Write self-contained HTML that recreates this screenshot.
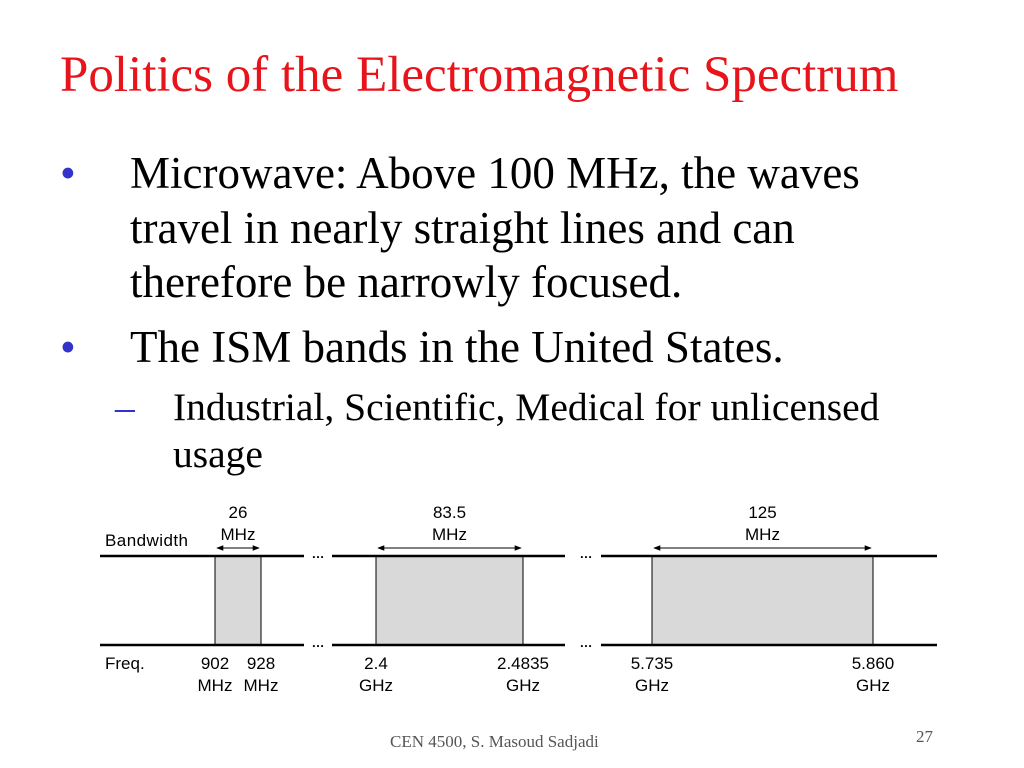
<!DOCTYPE html>
<html><head><meta charset="utf-8"><style>
body{margin:0;width:1024px;height:768px;background:#fff;position:relative;overflow:hidden;font-family:"Liberation Serif",serif}
.t{position:absolute;white-space:nowrap}
</style></head><body>
<div class="t" style="left:60px;top:45px;font-size:51px;line-height:60px;color:#e8141b">Politics of the Electromagnetic Spectrum</div>
<div class="t" style="left:60px;top:146px;font-size:45px;line-height:54.5px;color:#000"><span style="color:#3333cc;position:absolute;left:0">•</span><div style="margin-left:70px">Microwave: Above 100 MHz, the waves<br>travel in nearly straight lines and can<br>therefore be narrowly focused.</div></div>
<div class="t" style="left:60px;top:320px;font-size:45px;line-height:54px;color:#000"><span style="color:#3333cc;position:absolute;left:0">•</span><div style="margin-left:70px">The ISM bands in the United States.</div></div>
<div class="t" style="left:115px;top:384px;font-size:39.5px;line-height:47px;color:#000"><span style="color:#3333cc;position:absolute;left:0">–</span><div style="margin-left:58px">Industrial, Scientific, Medical for unlicensed<br>usage</div></div>
<svg width="1024" height="768" style="position:absolute;left:0;top:0" font-family="Liberation Sans, sans-serif" font-size="17">
<defs><marker id="a" viewBox="0 0 10 10" refX="9" refY="5" markerWidth="7" markerHeight="7" orient="auto-start-reverse"><path d="M0,1L10,5L0,9z" fill="#000"/></marker></defs>
<g id="g"></g>
<text x="105" y="546" textLength="83">Bandwidth</text>
<text x="105" y="669">Freq.</text>
</svg>
<div class="t" style="left:390px;top:732px;font-size:17px;color:#555">CEN 4500, S. Masoud Sadjadi</div>
<div class="t" style="left:916px;top:727px;font-size:17px;color:#555">27</div>
<script>
const bandStarts=[215,376,652];
const bandEnds=[261,523,873];
const bwTop=["26","83.5","125"];
const loLabels=[["902","MHz"],["2.4","GHz"],["5.735","GHz"]];
const hiLabels=[["928","MHz"],["2.4835","GHz"],["5.860","GHz"]];
const segs=[[100,304],[332,565],[601,937]];
const dots=[318,586];
const g=document.getElementById('g');const NS='http://www.w3.org/2000/svg';
function mk(t,a){const e=document.createElementNS(NS,t);for(const k in a)e.setAttribute(k,a[k]);g.appendChild(e);return e;}
bandStarts.forEach((s,i)=>{const e=bandEnds[i];
const r=mk('rect',{x:s,y:556,width:e-s,height:89,fill:'#d9d9d9',stroke:'#000','stroke-width':1});


const l=mk('line',{x1:s+2,y1:548,x2:e-2,y2:548,stroke:'#000','stroke-width':1,'marker-start':'url(#a)','marker-end':'url(#a)'});


const c=(s+e)/2;
let t=mk('text',{x:c,y:518,'text-anchor':'middle'});t.textContent=bwTop[i];


t=mk('text',{x:c,y:540,'text-anchor':'middle'});t.textContent='MHz';


[[s,loLabels[i]],[e,hiLabels[i]]].forEach(([x,lab])=>{lab.forEach((w,j)=>{const tt=mk('text',{x:x,y:669+j*22,'text-anchor':'middle'});tt.textContent=w;

});});
});
segs.forEach(([a,b])=>{[556,645].forEach(y=>{const l=mk('line',{x1:a,y1:y,x2:b,y2:y,stroke:'#000','stroke-width':2.5});

});});
dots.forEach(x=>{[558,647].forEach(y=>{const t=mk('text',{x:x,y:y,'text-anchor':'middle','font-size':'13','font-weight':'bold'});t.textContent='…';

});});
</script>
</body></html>
